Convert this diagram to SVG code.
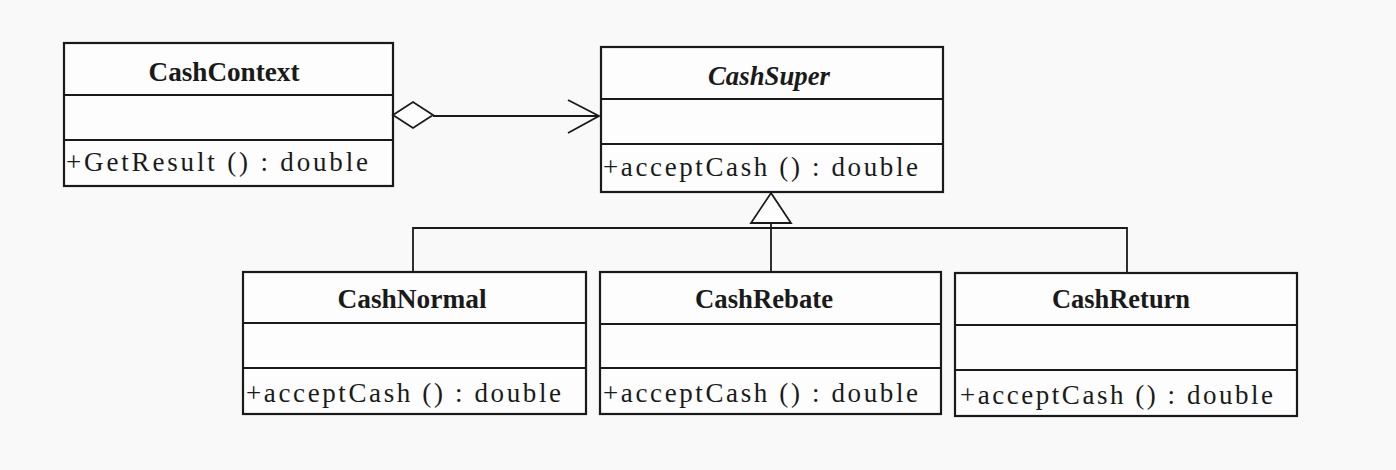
<svg xmlns="http://www.w3.org/2000/svg" width="1396" height="470" viewBox="0 0 1396 470">
<style>
.box{fill:#fdfdfd;stroke:#1a1a1a;stroke-width:2.2}
.div{stroke:#1a1a1a;stroke-width:2.2}
.title{font-family:"Liberation Serif",serif;font-size:27px;font-weight:bold;fill:#1a1a1a;text-anchor:middle}
.abs{font-style:italic}
.op{font-family:"Liberation Serif",serif;font-size:27px;fill:#1a1a1a}
.conn{fill:none;stroke:#1a1a1a;stroke-width:1.8}
</style>
<rect x="0" y="0" width="1396" height="470" fill="#f9f9f9"/>
<g id="CashContext">
<rect class="box" x="64" y="43" width="329" height="143"/>
<line class="div" x1="64" y1="95" x2="393" y2="95"/>
<line class="div" x1="64" y1="140" x2="393" y2="140"/>
<text class="title" x="224" y="81" textLength="151" lengthAdjust="spacingAndGlyphs">CashContext</text>
<text class="op" x="66" y="171" textLength="302" lengthAdjust="spacing">+GetResult () : double</text>
</g>
<g id="CashSuper">
<rect class="box" x="601" y="47" width="342" height="145"/>
<line class="div" x1="601" y1="99" x2="943" y2="99"/>
<line class="div" x1="601" y1="144" x2="943" y2="144"/>
<text class="title abs" x="769" y="85" textLength="122" lengthAdjust="spacingAndGlyphs">CashSuper</text>
<text class="op" x="603" y="176" textLength="315" lengthAdjust="spacing">+acceptCash () : double</text>
</g>
<g id="CashNormal">
<rect class="box" x="243" y="272" width="343" height="142"/>
<line class="div" x1="243" y1="323" x2="586" y2="323"/>
<line class="div" x1="243" y1="368" x2="586" y2="368"/>
<text class="title" x="412" y="308" textLength="149" lengthAdjust="spacingAndGlyphs">CashNormal</text>
<text class="op" x="246" y="402" textLength="315" lengthAdjust="spacing">+acceptCash () : double</text>
</g>
<g id="CashRebate">
<rect class="box" x="600" y="272" width="341" height="142"/>
<line class="div" x1="600" y1="324" x2="941" y2="324"/>
<line class="div" x1="600" y1="368" x2="941" y2="368"/>
<text class="title" x="764" y="308" textLength="138" lengthAdjust="spacingAndGlyphs">CashRebate</text>
<text class="op" x="603" y="402" textLength="315" lengthAdjust="spacing">+acceptCash () : double</text>
</g>
<g id="CashReturn">
<rect class="box" x="955" y="273" width="342" height="143"/>
<line class="div" x1="955" y1="325" x2="1297" y2="325"/>
<line class="div" x1="955" y1="370" x2="1297" y2="370"/>
<text class="title" x="1121" y="308" textLength="138" lengthAdjust="spacingAndGlyphs">CashReturn</text>
<text class="op" x="960" y="404" textLength="313" lengthAdjust="spacing">+acceptCash () : double</text>
</g>
<g id="connectors">
<line class="conn" x1="433" y1="116" x2="599" y2="116"/>
<polygon class="conn" points="393,115 413,102 433,115 413,128" style="fill:#fdfdfd"/>
<polyline class="conn" points="568,100 599,116 568,133"/>
<polyline class="conn" points="413,272 413,228 1127,228 1127,273"/>
<line class="conn" x1="771" y1="223" x2="771" y2="272"/>
<polygon class="conn" points="771,193 791,223 751,223" style="fill:#fdfdfd"/>
</g>
</svg>
